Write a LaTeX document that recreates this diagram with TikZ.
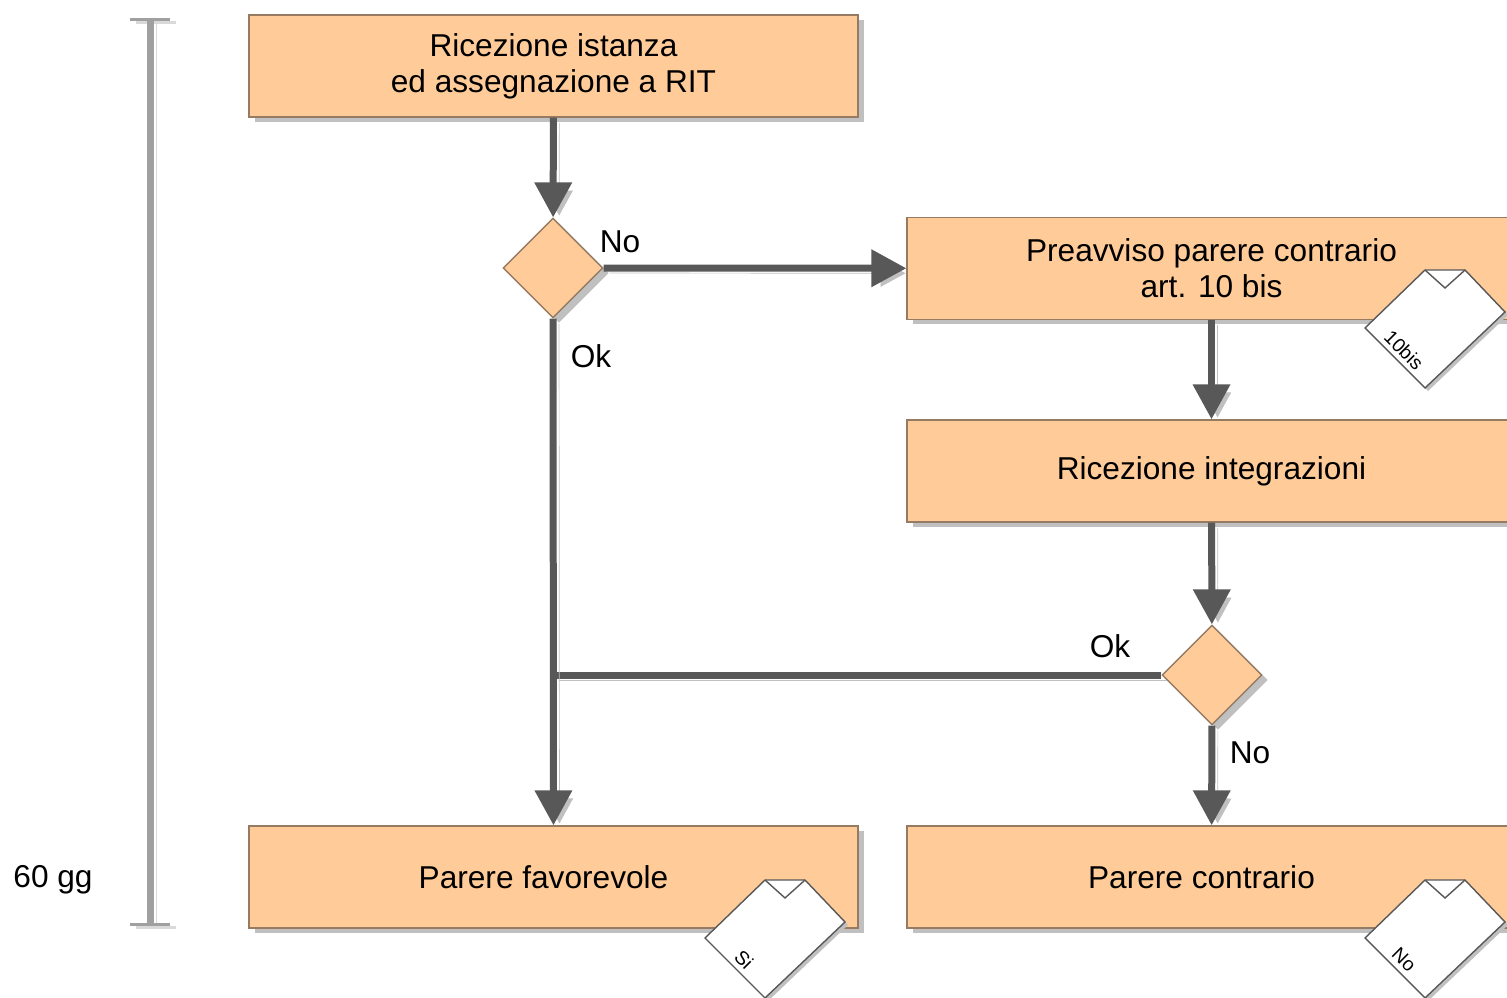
\documentclass[tikz,border=0pt]{standalone}
\usepackage{fontspec}
\setmainfont{Liberation Sans}
\usetikzlibrary{shapes.geometric,arrows.meta,shadows}
\definecolor{boxfill}{RGB}{255,204,153}
\definecolor{boxline}{RGB}{150,122,98}
\definecolor{flow}{RGB}{88,88,88}
\definecolor{flowshadow}{RGB}{192,192,192}
\definecolor{scalebar}{RGB}{160,160,160}

\begin{document}
\begin{tikzpicture}[x=0.02cm, y=-0.02cm,
    every node/.style={font=\fontsize{18}{20.5}\selectfont},
    task/.style={draw=boxline, line width=0.8pt, fill=boxfill, align=center, inner sep=0pt,
      minimum width=12.18cm, minimum height=2.04cm,
      drop shadow={shadow xshift=0.12cm, shadow yshift=-0.1cm, fill=flowshadow, opacity=1}},
    check/.style={diamond, draw=boxline, line width=0.8pt, fill=boxfill, inner sep=0pt, minimum size=2cm,
      drop shadow={shadow xshift=0.12cm, shadow yshift=-0.1cm, fill=flowshadow, opacity=1}},
    flowline/.style={line width=0.14cm, draw=flow,
      preaction={draw=flowshadow, transform canvas={xshift=0.12cm, yshift=-0.1cm}}},
    flowarrow/.style={flowline, -{Triangle[width=0.72cm, length=0.7cm]}},
    doc/.pic={
      \draw[draw=flow, fill=white, line width=0.8pt,
        drop shadow={shadow xshift=0.06cm, shadow yshift=-0.06cm, fill=flowshadow, opacity=1}]
        (0,0) -- (60,-58) -- (100,-58) -- (140,-16) -- (60,60) -- cycle;
      \draw[draw=flow, line width=0.8pt] (60,-58) -- (80,-40) -- (100,-58);
      \node[rotate=-45, inner sep=0pt, font=\fontsize{11}{12}\selectfont] (-tag) at (39,22) {#1};
    }]
  \useasboundingbox (0,0) rectangle (1507,997);
  \clip (0,0) rectangle (1507,997);

  \node[task] (start)  at (553.5,66)  {Ricezione istanza\\ed assegnazione a RIT};
  \node[check] (q1)    at (553,268)   {};
  \node[task] (notice) at (1211.5,268.5) {Preavviso parere contrario\\art. 10 bis};
  \node[task] (reply)  at (1211.5,471) {Ricezione integrazioni};
  \node[check] (q2)    at (1212,675)  {};
  \node[task] (pos)    at (553.5,877) {Parere favorevole\hspace*{0.4cm}};
  \node[task] (neg)    at (1211.5,877) {Parere contrario\hspace*{0.4cm}};

  \pic (docA) at (1365,328) {doc=10bis};
  \pic (docB) at (705,938)  {doc=Si};
  \pic (docC) at (1365,938) {doc=No};

  \node (no1) at (620,242)  {No};
  \node (ok1) at (591,356)  {Ok};
  \node (ok2) at (1110,646) {Ok};
  \node (no2) at (1250,753) {No};

  \coordinate (join) at (q1 |- q2);
  \draw[flowarrow] (start) -- (q1);
  \draw[flowarrow] (q1) -- (notice);
  \draw[flowarrow] (notice) -- (reply);
  \draw[flowarrow] (reply) -- (q2);
  \draw[flowarrow] (q2) -- (neg);
  \draw[flowline] (q2.west) -- (join);
  \draw[flowarrow] (q1) -- (pos);

  \coordinate (top) at (150,18);
  \coordinate (bottom) at (150,926);
  \draw[line width=0.14cm, draw=scalebar,
    {Bar[width=0.8cm, line width=0.06cm]}-{Bar[width=0.8cm, line width=0.06cm]},
    preaction={draw=flowshadow!60, transform canvas={xshift=0.12cm, yshift=-0.06cm}}]
    (top) -- (bottom);
  \node (span) at (53,880) {60 gg};
\end{tikzpicture}
\end{document}
